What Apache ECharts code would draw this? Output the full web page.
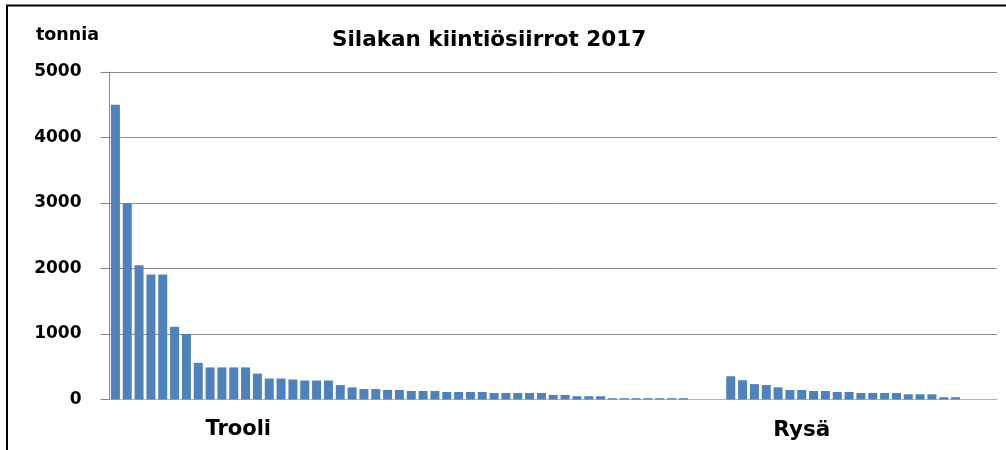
<!DOCTYPE html>
<html>
<head>
<meta charset="utf-8">
<script src="https://cdn.jsdelivr.net/npm/echarts@6/dist/echarts.min.js"></script>
<style>
  html, body { margin: 0; padding: 0; background: #fff; }
  #chart { width: 1006px; height: 450px; }
</style>
</head>
<body>
<div id="chart"></div>
<script>
// Silakan kiintiösiirrot 2017 - tonnia per siirto
const trooliValues = [4500, 3000, 2050, 1910, 1910, 1110, 1000, 560, 490, 490, 490, 490,
  395, 320, 320, 305, 290, 290, 290, 220, 185, 160, 160, 145, 145, 130, 130, 130,
  115, 115, 115, 115, 100, 100, 100, 100, 100, 70, 70, 50, 50, 50,
  20, 20, 20, 20, 20, 20, 20];
const rysaValues = [355, 295, 235, 220, 185, 145, 145, 130, 130, 115, 115,
  100, 100, 100, 100, 80, 80, 80, 35, 35];
const emptyGap = [0, 0, 0];
const groupNames = ['Trooli', 'Rysä'];
const groupLabelIndex = [10, 58];
const yTicks = [0, 1000, 2000, 3000, 4000, 5000];

const values = trooliValues.concat(emptyGap, rysaValues, emptyGap);
const categories = values.map(() => '');
groupLabelIndex.forEach((idx, i) => { categories[idx] = groupNames[i]; });

const font = 'DejaVu Sans';
const chart = echarts.init(document.getElementById('chart'));

chart.setOption({
  animation: false,
  title: {
    text: 'Silakan kiintiösiirrot 2017',
    left: 327,
    top: 24,
    textStyle: { fontFamily: font, fontSize: 21.5, fontWeight: 'bold', color: '#000' }
  },
  grid: { left: 109.5, right: 9, top: 72, bottom: 50.5 },
  xAxis: {
    type: 'category',
    data: categories,
    axisLine: { lineStyle: { color: '#a9b8cc', width: 1 } },
    axisTick: { show: false },
    axisLabel: {
      interval: 0,
      margin: 20,
      formatter: (v) => v === 'Trooli' ? '{t|' + v + '}' : v,
      rich: { t: { padding: [0, 0, 0, 9], fontFamily: font, fontSize: 21, fontWeight: 'bold', color: '#000' } },
      fontFamily: font, fontSize: 21.5, fontWeight: 'bold', color: '#000'
    }
  },
  yAxis: {
    type: 'value',
    min: yTicks[0],
    max: yTicks[yTicks.length - 1],
    interval: 1000,
    name: 'tonnia',
    nameLocation: 'end',
    nameGap: 28,
    nameTextStyle: { fontFamily: font, fontSize: 17.5, fontWeight: 'bold', color: '#000', padding: [0, 84, 0, 0] },
    axisLine: { show: true, lineStyle: { color: '#868686' } },
    axisTick: { show: true, length: 9, lineStyle: { color: '#868686' } },
    axisLabel: {
      margin: 28,
      formatter: (v) => String(v),
      fontFamily: font, fontSize: 17, fontWeight: 'bold', color: '#000'
    },
    splitLine: { lineStyle: { color: '#8c8c8c' } }
  },
  series: [{
    type: 'bar',
    data: values,
    barWidth: '76%',
    itemStyle: { color: '#4F81BD' }
  }],
  graphic: [
    { type: 'line', shape: { x1: 6, y1: 5.5, x2: 1006, y2: 5.5 }, style: { stroke: '#000', lineWidth: 2 } },
    { type: 'line', shape: { x1: 7, y1: 5, x2: 7, y2: 450 }, style: { stroke: '#000', lineWidth: 2 } }
  ]
});
</script>
</body>
</html>
